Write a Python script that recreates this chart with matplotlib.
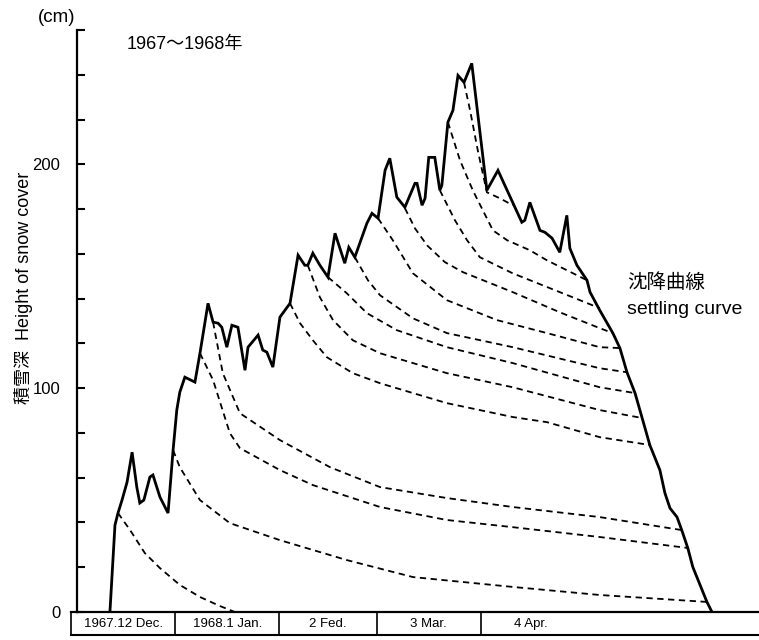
import matplotlib
matplotlib.use('Agg')
import matplotlib.pyplot as plt

plt.rcParams['font.family'] = ['Liberation Sans', 'Noto Sans CJK JP', 'DejaVu Sans']

# x values: days counted from 1 Dec 1967, y values: snow depth in cm
snow_day = [11.6, 13.1, 14.0, 15.2, 16.7, 18.2, 19.6, 20.5, 21.7, 23.5, 24.4, 26.5,
            28.9, 30.4, 31.5, 32.4, 33.9, 36.9, 38.4, 40.8, 42.3, 43.8, 44.9, 46.4,
            47.9, 49.7, 51.8, 52.7, 55.7, 57.1, 58.3, 60.1, 62.2, 65.2, 67.6, 69.6,
            70.5, 72.0, 74.1, 76.5, 78.6, 81.5, 82.7, 84.5, 86.6, 88.1, 89.6, 91.4,
            93.5, 94.9, 97.0, 99.4, 102.4, 103.0, 104.5, 105.4, 106.5, 108.3, 109.8,
            110.4, 112.2, 113.7, 115.2, 117.0, 119.3, 123.8, 127.1, 134.2, 135.1,
            136.6, 139.6, 141.1, 143.2, 145.5, 147.6, 148.5, 150.6, 153.6, 154.5,
            157.4, 161.3, 163.4, 165.5, 167.9, 170.2, 172.3, 175.3, 176.8, 178.3,
            180.4, 181.8, 183.6, 185.1, 189.3, 190.8]
snow_cm = [0, 38.8, 44.2, 50.0, 58.0, 71.4, 55.8, 48.7, 50.0, 60.3, 61.2, 51.3,
           44.2, 72.3, 90.2, 98.2, 104.9, 102.7, 115.6, 137.9, 129.5, 129.0, 127.2, 118.3,
           128.1, 127.2, 108.0, 118.3, 123.7, 117.0, 116.1, 109.4, 131.7, 137.9, 159.4, 154.9,
           154.9, 160.3, 154.9, 149.6, 169.2, 155.8, 162.9, 158.5, 167.4, 173.7, 178.1, 175.9,
           197.3, 202.7, 185.3, 180.8, 191.5, 191.5, 181.7, 184.8, 203.1, 203.1, 188.4,
           190.6, 218.8, 224.1, 239.7, 236.6, 245.1, 188.4, 197.3, 174.1, 175.0,
           183.0, 170.5, 169.6, 167.0, 160.7, 177.2, 162.5, 154.9, 148.2, 142.9,
           134.8, 124.6, 117.9, 107.1, 97.8, 85.7, 74.6, 63.4, 53.1, 46.4,
           42.4, 36.6, 28.6, 20.1, 4.5, 0]

# settling curves (one per snow layer)
sa_day = [14.0, 17.6, 22.0, 26.5, 32.4, 38.4, 44.3, 48.8]
sa_cm = [44.2, 36.6, 26.3, 19.6, 12.1, 6.7, 2.7, 0]
sb_day = [30.4, 32.4, 38.4, 47.3, 62.2, 82.1, 101.8, 131.5, 157.4, 189.3]
sb_cm = [72.3, 64.7, 50.0, 39.7, 32.1, 23.2, 15.6, 11.2, 7.6, 4.5]
sc_day = [38.4, 42.3, 47.3, 50.3, 62.2, 72.0, 92.0, 111.9, 131.5, 157.4, 183.6]
sc_cm = [115.6, 103.6, 79.9, 73.2, 63.4, 56.7, 46.9, 41.1, 37.9, 33.5, 28.6]
sd_day = [42.3, 45.2, 50.3, 62.2, 77.1, 92.0, 111.9, 131.5, 157.4, 181.8]
sd_cm = [129.5, 106.7, 88.8, 76.8, 64.7, 55.8, 50.9, 46.9, 42.4, 36.6]
se_day = [65.2, 68.2, 72.0, 76.2, 83.9, 92.0, 101.8, 111.9, 121.7, 131.5, 141.7, 157.4, 172.3]
se_cm = [137.9, 129.0, 121.4, 113.8, 106.7, 102.2, 97.8, 93.3, 90.2, 87.1, 84.8, 78.1, 74.6]
sf_day = [70.5, 74.1, 78.0, 83.9, 92.0, 101.8, 111.9, 131.5, 157.4, 170.2]
sf_cm = [154.9, 140.6, 130.4, 121.4, 115.6, 111.2, 106.7, 100.4, 90.2, 86.6]
sg_day = [76.5, 82.1, 88.1, 97.0, 111.9, 131.5, 157.4, 167.9]
sg_cm = [149.6, 142.4, 133.5, 125.9, 118.3, 111.2, 100.4, 97.8]
sh_day = [84.5, 88.4, 92.0, 101.8, 111.9, 131.5, 157.4, 165.5]
sh_cm = [158.5, 148.2, 141.5, 131.2, 124.6, 118.3, 108.9, 107.1]
si_day = [91.4, 95.8, 101.8, 111.9, 126.8, 141.7, 157.4, 163.4]
si_cm = [175.9, 166.1, 151.3, 139.3, 130.4, 124.6, 118.3, 117.9]
sj_day = [99.4, 102.4, 106.0, 111.3, 116.7, 131.5, 145.5, 157.4, 161.3]
sj_cm = [180.4, 171.4, 163.8, 156.3, 151.8, 142.9, 133.9, 126.8, 124.6]
sk_day = [109.8, 114.3, 117.9, 121.7, 131.5, 151.5, 157.4]
sk_cm = [188.4, 175.0, 166.1, 158.5, 151.3, 139.3, 135.7]
sl_day = [112.2, 115.8, 119.6, 125.6, 129.8, 136.6, 141.7, 153.6]
sl_cm = [218.8, 201.8, 188.4, 170.5, 166.1, 161.6, 157.1, 148.2]
sm_day = [117.0, 118.8, 121.1, 123.8, 127.7, 131.5]
sm_cm = [236.6, 224.1, 206.2, 187.5, 184.8, 181.7]

month_start = [0, 31, 62, 91, 122]
month_len = [31, 31, 29, 31, 30]
month_label = ['1967.12 Dec.', '1968.1 Jan.', '2 Fed.', '3 Mar.', '4 Apr.']

W, H = 759, 640
fig = plt.figure(figsize=(W / 100, H / 100), dpi=100)
ax = fig.add_axes([77 / W, 28 / H, 1 - 77 / W, 582 / H])

curves = [(sa_day, sa_cm), (sb_day, sb_cm), (sc_day, sc_cm), (sd_day, sd_cm),
          (se_day, se_cm), (sf_day, sf_cm), (sg_day, sg_cm), (sh_day, sh_cm),
          (si_day, si_cm), (sj_day, sj_cm), (sk_day, sk_cm), (sl_day, sl_cm),
          (sm_day, sm_cm)]
for d, c in curves:
    ax.plot(d, c, color='black', lw=1.3, dashes=(3.5, 2.5))

ax.plot(snow_day, snow_cm, color='black', lw=2.0, solid_joinstyle='miter')

ax.set_xlim(1.8, 204.8)
ax.set_ylim(0, 260)
ax.spines['top'].set_visible(False)
ax.spines['right'].set_visible(False)
ax.spines['left'].set_linewidth(1.6)
ax.spines['bottom'].set_linewidth(1.6)
ax.set_xticks([])
ax.set_yticks(range(0, 261, 20))
ax.set_yticklabels(['0' if v == 0 else str(v) if v % 100 == 0 else '' for v in range(0, 261, 20)])
ax.tick_params(axis='y', direction='in', length=6, width=1.5, pad=12, labelsize=12)

# month table under the x axis
tb = -10.3
ax.plot([0, 204.8], [tb, tb], color='black', lw=1.5, clip_on=False)
ax.plot([0, 1.8], [0, 0], color='black', lw=1.6, clip_on=False)
for s, n, lab in zip(month_start, month_len, month_label):
    ax.plot([s, s], [0, tb], color='black', lw=1.2, clip_on=False)
    ax.text(s + n / 2, tb / 2, lab, ha='center', va='center', fontsize=9.5, clip_on=False)

fig.text(57 / W, 1 - 17 / H, '(cm)', ha='center', va='center', fontsize=13.5)
fig.text(127 / W, 1 - 44 / H, '1967～1968年', ha='left', va='center', fontsize=13)
fig.text(24 / W, 1 - 288 / H, '積雪深  Height of snow cover', rotation=90,
         ha='center', va='center', fontsize=13)
fig.text(627 / W, 1 - 283 / H, '沈降曲線', ha='left', va='center', fontsize=14)
fig.text(627 / W, 1 - 309 / H, 'settling curve', ha='left', va='center', fontsize=14)

fig.savefig('out.png', dpi=100)
